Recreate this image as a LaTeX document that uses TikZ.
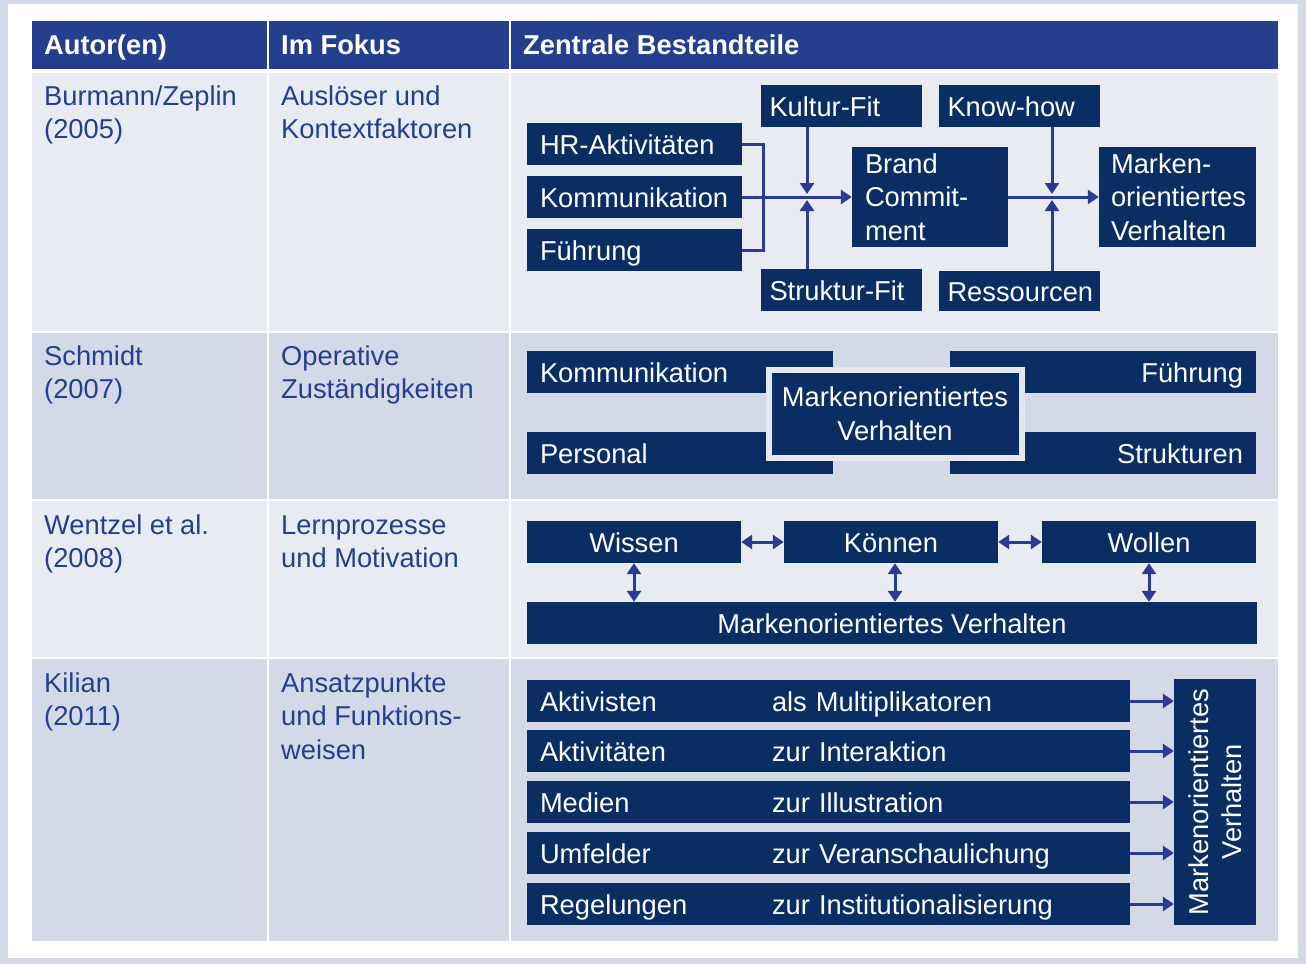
\documentclass[tikz,border=0pt]{standalone}
\usepackage{fontspec}
\setmainfont{Liberation Sans}
\usetikzlibrary{arrows.meta}

\definecolor{framebg}{HTML}{D4DAEA}
\definecolor{headblue}{HTML}{233F8D}
\definecolor{rowlight}{HTML}{E8EBF1}
\definecolor{rowdark}{HTML}{D3D9E6}
\definecolor{txtblue}{HTML}{243F8F}
\definecolor{navy}{HTML}{0A2E63}
\definecolor{lineblue}{HTML}{2B3B93}
\definecolor{gapgrey}{HTML}{E3E7F0}

\begin{document}
\begin{tikzpicture}[x=1pt, y=-1pt, >={Triangle[width=14pt,length=11pt]}]
    \tikzstyle{every node}=[font=\fontsize{27.3}{33.5}\selectfont]
    \tikzstyle{cell}=[anchor=base west, inner sep=0pt, align=left, text=txtblue]
    \tikzstyle{head}=[anchor=base west, inner sep=0pt, text=white, font=\fontsize{27.3}{33.5}\selectfont\bfseries]
    \tikzstyle{blk}=[fill=navy, text=white, inner sep=0pt, inner xsep=13pt, minimum height=42pt, text height=25.6pt, text depth=3.8pt]
    \tikzstyle{multi}=[fill=navy, text=white, inner sep=0pt, inner xsep=13pt, align=left]
    \tikzstyle{conn}=[draw=lineblue, line width=3pt]

    % table
    \fill[framebg] (0,0) rectangle (1306,964);
    \fill[white] (8,4) rectangle (1298,958);
    \fill[headblue] (32,21) rectangle (267,69);
    \fill[headblue] (269,21) rectangle (509,69);
    \fill[headblue] (511,21) rectangle (1278,69);
    \fill[rowlight] (32,73) rectangle (267,331);
    \fill[rowlight] (269,73) rectangle (509,331);
    \fill[rowlight] (511,73) rectangle (1278,331);
    \fill[rowdark] (32,333) rectangle (267,499);
    \fill[rowdark] (269,333) rectangle (509,499);
    \fill[rowdark] (511,333) rectangle (1278,499);
    \fill[rowlight] (32,501) rectangle (267,657);
    \fill[rowlight] (269,501) rectangle (509,657);
    \fill[rowlight] (511,501) rectangle (1278,657);
    \fill[rowdark] (32,659) rectangle (267,941);
    \fill[rowdark] (269,659) rectangle (509,941);
    \fill[rowdark] (511,659) rectangle (1278,941);

    \node[head] (h_0) at (44,54) {Autor(en)};
    \node[head] (h_1) at (281,54) {Im Fokus};
    \node[head] (h_2) at (523,54) {Zentrale Bestandteile};

    % base = last line
    \node[cell] (a_0) at (44,138.5) {Burmann/Zeplin\\(2005)};
    \node[cell] (f_0) at (281,138.5) {Auslöser und\\Kontextfaktoren};
    \node[cell] (a_1) at (44,398.5) {Schmidt\\(2007)};
    \node[cell] (f_1) at (281,398.5) {Operative\\Zuständigkeiten};
    \node[cell] (a_2) at (44,567.5) {Wentzel et al.\\(2008)};
    \node[cell] (f_2) at (281,567.5) {Lernprozesse\\und Motivation};
    \node[cell] (a_3) at (44,725.5) {Kilian\\(2011)};
    \node[cell] (f_3) at (281,759) {Ansatzpunkte\\und Funktions-\\weisen};

    % Burmann/Zeplin
    \node[blk, text width=189pt, align=left] (hr) at (634.5,144) {HR-Aktivitäten};
    \node[blk, text width=189pt, align=left] (komm) at (634.5,197) {Kommunikation};
    \node[blk, text width=189pt, align=left] (fuehr) at (634.5,250) {Führung};
    \node[blk, inner xsep=8.5pt, text width=144pt, align=left] (kultur) at (841.5,105.5) {Kultur-Fit};
    \node[blk, inner xsep=8.5pt, text width=144pt, align=left] (struktur) at (841.5,290) {Struktur-Fit};
    \node[blk, inner xsep=8.5pt, text width=144pt, align=left] (knowhow) at (1019.5,105.5) {Know-how};
    \node[blk, inner xsep=8.5pt, text width=144pt, align=left, minimum height=40pt] (ressourcen) at (1019.5,291) {Ressourcen};
    \node[multi, text width=130pt, minimum height=100pt] (brand) at (930,197) {Brand\\Commit-\\ment};
    \node[multi, inner xsep=12pt, text width=133pt, minimum height=100pt] (marken) at (1177.5,197) {Marken-\\orientiertes\\Verhalten};

    \coordinate (j_1) at (807,197);
    \coordinate (j_2) at (1052,197);
    \draw[conn] (hr.east) -- ++(21,0) |- (fuehr.east);
    \draw[conn,->] (komm.east) -- (brand.west);
    \draw[conn,->] (kultur.south -| j_1) -- ([yshift=3pt]j_1);
    \draw[conn,->] (struktur.north -| j_1) -- ([yshift=-3pt]j_1);
    \draw[conn,->] (brand.east) -- (marken.west);
    \draw[conn,->] (knowhow.south -| j_2) -- ([yshift=3pt]j_2);
    \draw[conn,->] (ressourcen.north -| j_2) -- ([yshift=-3pt]j_2);

    % Schmidt
    \node[blk, text width=280pt, align=left] (komm2) at (680,372) {Kommunikation};
    \node[blk, text width=280pt, align=right] (fuehr2) at (1103,372) {Führung};
    \node[blk, text width=280pt, align=left] (pers2) at (680,453) {Personal};
    \node[blk, text width=280pt, align=right] (strukt2) at (1103,453) {Strukturen};
    \node[multi, align=center, inner xsep=0pt, draw=gapgrey, line width=6pt, minimum width=253pt, minimum height=88pt] (mov2) at (895,413.5) {Markenorientiertes\\Verhalten};

    % Wentzel et al.
    \node[blk, minimum width=214pt] (wissen) at (634,542) {Wissen};
    \node[blk, minimum width=214pt] (koennen) at (891,542) {Können};
    \node[blk, minimum width=214pt] (wollen) at (1149,542) {Wollen};
    \node[blk, minimum width=730pt] (mov3) at (892,623) {Markenorientiertes Verhalten};
    \draw[conn,<->] (wissen.east) -- (koennen.west);
    \draw[conn,<->] (koennen.east) -- (wollen.west);
    \draw[conn,<->] (wissen.south) -- (wissen.south |- mov3.north);
    \draw[conn,<->] ([xshift=4pt]koennen.south) -- ([xshift=4pt]koennen.south |- mov3.north);
    \draw[conn,<->] (wollen.south) -- (wollen.south |- mov3.north);

    % Kilian
    \node[blk, text width=577pt, align=left] (k_1) at (828.5,701) {\makebox[232pt][l]{Aktivisten}als Multiplikatoren};
    \node[blk, text width=577pt, align=left] (k_2) at (828.5,751) {\makebox[232pt][l]{Aktivitäten}zur Interaktion};
    \node[blk, text width=577pt, align=left] (k_3) at (828.5,802) {\makebox[232pt][l]{Medien}zur Illustration};
    \node[blk, text width=577pt, align=left] (k_4) at (828.5,853) {\makebox[232pt][l]{Umfelder}zur Veranschaulichung};
    \node[blk, text width=577pt, align=left] (k_5) at (828.5,904) {\makebox[232pt][l]{Regelungen}zur Institutionalisierung};
    \node[fill=navy, text=white, inner sep=0pt, align=center, rotate=90, minimum width=246pt, minimum height=82pt] (mv4) at (1215,802) {Markenorientiertes\\Verhalten};
    \draw[conn,->] (k_1.east) -- (k_1.east -| mv4.north);
    \draw[conn,->] (k_2.east) -- (k_2.east -| mv4.north);
    \draw[conn,->] (k_3.east) -- (k_3.east -| mv4.north);
    \draw[conn,->] (k_4.east) -- (k_4.east -| mv4.north);
    \draw[conn,->] (k_5.east) -- (k_5.east -| mv4.north);

\end{tikzpicture}
\end{document}
